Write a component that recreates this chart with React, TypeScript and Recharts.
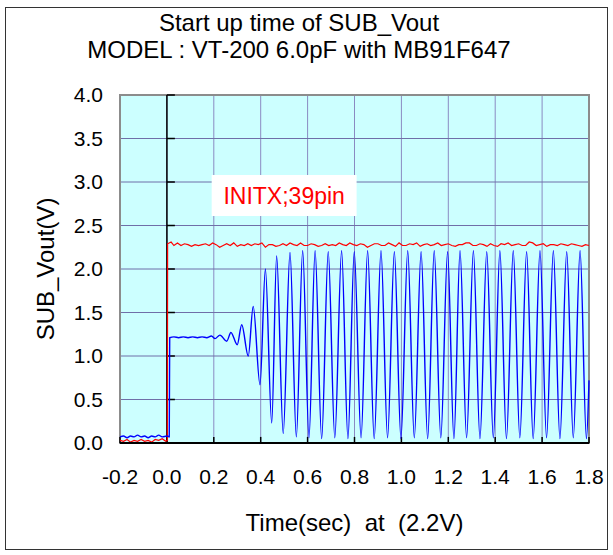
import React from "react";
import {
  LineChart,
  Line,
  XAxis,
  YAxis,
  CartesianGrid,
  ReferenceArea,
  ReferenceLine,
  Label,
} from "recharts";

// axis ticks
const xTicks = [-0.2, 0, 0.2, 0.4, 0.6, 0.8, 1.0, 1.2, 1.4, 1.6, 1.8];
const yTicks = [0, 0.5, 1, 1.5, 2, 2.5, 3, 3.5, 4];

// INITX (red) : [time, volt]
const initxLow: [number, number][] = [
  [-0.2, 0.03], [-0.185, 0.02], [-0.17, 0.04], [-0.155, 0.01], [-0.14, 0.03],
  [-0.125, 0.02], [-0.11, 0.04], [-0.095, 0.02], [-0.08, 0.03], [-0.065, 0.01],
  [-0.05, 0.04], [-0.035, 0.03], [-0.02, 0.05], [-0.005, 0.02], [0.002, 0.03],
];
const initxHigh: [number, number][] = [
  [0.003, 2.29], [0.018, 2.31], [0.03, 2.27], [0.045, 2.3], [0.06, 2.27],
  [0.075, 2.29], [0.09, 2.28], [0.105, 2.26], [0.12, 2.28], [0.135, 2.27],
  [0.15, 2.28], [0.165, 2.29], [0.18, 2.27], [0.195, 2.3], [0.21, 2.28],
  [0.225, 2.25], [0.24, 2.27], [0.255, 2.29], [0.27, 2.27], [0.285, 2.3],
  [0.3, 2.26], [0.315, 2.28], [0.33, 2.27], [0.345, 2.29], [0.36, 2.27],
  [0.375, 2.29], [0.39, 2.28], [0.405, 2.3], [0.42, 2.25], [0.435, 2.28],
  [0.45, 2.28], [0.465, 2.26], [0.48, 2.27], [0.495, 2.29], [0.51, 2.27],
  [0.525, 2.3], [0.54, 2.28], [0.555, 2.27], [0.57, 2.3], [0.585, 2.27],
  [0.6, 2.27], [0.615, 2.29], [0.63, 2.28], [0.645, 2.26], [0.66, 2.27],
  [0.675, 2.29], [0.69, 2.27], [0.705, 2.28], [0.72, 2.27], [0.735, 2.3],
  [0.75, 2.28], [0.765, 2.27], [0.78, 2.3], [0.795, 2.28], [0.81, 2.27],
  [0.825, 2.29], [0.84, 2.28], [0.855, 2.25], [0.87, 2.27], [0.885, 2.29],
  [0.9, 2.29], [0.915, 2.27], [0.93, 2.27], [0.945, 2.3], [0.96, 2.28],
  [0.975, 2.26], [0.99, 2.3], [1.005, 2.27], [1.02, 2.27], [1.035, 2.29],
  [1.05, 2.28], [1.065, 2.3], [1.08, 2.26], [1.095, 2.28], [1.11, 2.29],
  [1.125, 2.27], [1.14, 2.28], [1.155, 2.3], [1.17, 2.27], [1.185, 2.28],
  [1.2, 2.29], [1.215, 2.27], [1.23, 2.26], [1.245, 2.28], [1.26, 2.28],
  [1.275, 2.3], [1.29, 2.3], [1.305, 2.27], [1.32, 2.27], [1.335, 2.29],
  [1.35, 2.28], [1.365, 2.26], [1.38, 2.29], [1.395, 2.27], [1.41, 2.26],
  [1.425, 2.29], [1.44, 2.28], [1.455, 2.3], [1.47, 2.27], [1.485, 2.28],
  [1.5, 2.29], [1.515, 2.27], [1.53, 2.27], [1.545, 2.31], [1.56, 2.3],
  [1.575, 2.27], [1.59, 2.28], [1.605, 2.29], [1.62, 2.26], [1.635, 2.28],
  [1.65, 2.28], [1.665, 2.27], [1.68, 2.29], [1.695, 2.28], [1.71, 2.27],
  [1.725, 2.29], [1.74, 2.28], [1.755, 2.27], [1.77, 2.26], [1.785, 2.28],
  [1.8, 2.27],
];

// SUB_Vout (blue)
const voutLow: [number, number][] = [
  [-0.2, 0.07], [-0.185, 0.08], [-0.17, 0.06], [-0.155, 0.08], [-0.14, 0.07],
  [-0.125, 0.09], [-0.11, 0.07], [-0.095, 0.08], [-0.08, 0.06], [-0.065, 0.08],
  [-0.05, 0.07], [-0.035, 0.09], [-0.02, 0.07], [0.0, 0.08], [0.01, 0.07],
];
const voutSettle: [number, number][] = [
  [0.012, 1.21], [0.03, 1.22], [0.05, 1.21], [0.07, 1.22], [0.09, 1.21],
  [0.11, 1.22], [0.13, 1.21], [0.15, 1.22], [0.17, 1.21], [0.19, 1.23],
  [0.205, 1.2], [0.226, 1.24], [0.255, 1.17], [0.273, 1.27], [0.3, 1.13],
  [0.319, 1.36], [0.347, 1.0],
];
const voutPeaks: [number, number][] = [
  [0.368, 1.57], [0.42, 2.0], [0.468, 2.15], [0.525, 2.19], [0.579, 2.21],
  [0.632, 2.21], [0.688, 2.2], [0.745, 2.21], [0.799, 2.2], [0.856, 2.21],
  [0.913, 2.21], [0.97, 2.2], [1.027, 2.21], [1.084, 2.2], [1.14, 2.21],
  [1.197, 2.2], [1.25, 2.21], [1.307, 2.21], [1.364, 2.2], [1.42, 2.21],
  [1.477, 2.21], [1.534, 2.2], [1.591, 2.21], [1.648, 2.21], [1.705, 2.2],
  [1.762, 2.21],
];
const voutTroughs: [number, number][] = [
  [0.397, 0.67], [0.447, 0.23], [0.496, 0.11], [0.552, 0.07], [0.606, 0.06],
  [0.66, 0.05], [0.716, 0.06], [0.772, 0.05], [0.828, 0.06], [0.884, 0.05],
  [0.941, 0.06], [0.998, 0.05], [1.055, 0.06], [1.112, 0.05], [1.168, 0.06],
  [1.224, 0.05], [1.278, 0.06], [1.335, 0.05], [1.392, 0.06], [1.448, 0.05],
  [1.505, 0.06], [1.562, 0.05], [1.619, 0.06], [1.676, 0.05], [1.733, 0.06],
  [1.789, 0.05], [1.8, 0.72],
];

const toRows = (pts: [number, number][]) => pts.map(([t, v]) => ({ t, v }));

const redData = toRows([...initxLow, ...initxHigh]);
const blueData = toRows(
  [...voutLow, ...voutSettle, ...voutPeaks, ...voutTroughs].sort((a, b) => a[0] - b[0])
);

const FONT = "'Liberation Sans', Arial, sans-serif";

export default function App() {
  return (
    <div
      style={{
        position: "absolute",
        left: 0,
        top: 0,
        width: 613,
        height: 555,
        background: "#fff",
        fontFamily: FONT,
      }}
    >
      <div
        style={{
          position: "absolute",
          left: 5,
          top: 7,
          width: 601,
          height: 541,
          border: "1px solid #333",
        }}
      />
      <div
        style={{
          position: "absolute",
          left: 0,
          width: 598,
          top: 9,
          textAlign: "center",
          fontSize: 24,
          lineHeight: "27px",
          color: "#000",
        }}
      >
        <div>Start up time of SUB_Vout</div>
        <div>MODEL : VT-200 6.0pF with MB91F647</div>
      </div>
      <div style={{ position: "absolute", left: 0, top: 0 }}>
        <LineChart
          width={613}
          height={555}
          data={blueData}
          margin={{ top: 95, right: 24, bottom: 0, left: 0 }}
          style={{ fontFamily: FONT }}
        >
          <CartesianGrid
            horizontal={false}
            vertical
            stroke="#8a8ac2"
            strokeWidth={1}
            fill="#ccffff"
            fillOpacity={1}
          />
          <CartesianGrid horizontal vertical={false} stroke="#6f6fa8" strokeWidth={1} />
          <XAxis
            dataKey="t"
            type="number"
            domain={[-0.2, 1.8]}
            ticks={xTicks}
            tickFormatter={(v: number) => v.toFixed(1)}
            height={112}
            tickLine={false}
            axisLine={{ stroke: "#000", strokeWidth: 2 }}
            tick={{ fill: "#000", fontSize: 21 }}
            tickMargin={20}
            interval={0}
          >
            <Label
              value={"Time(sec)\u00a0 at\u00a0 (2.2V)"}
              position="insideBottom"
              offset={24}
              fill="#000"
              fontSize={24}
            />
          </XAxis>
          <YAxis
            type="number"
            domain={[0, 4]}
            ticks={yTicks}
            tickFormatter={(v: number) => v.toFixed(1)}
            width={120}
            tickLine={false}
            axisLine={false}
            tick={{ fill: "#000", fontSize: 21 }}
            tickMargin={11}
            interval={0}
          >
            <Label
              content={(props: any) => {
                const vb = props.viewBox || {};
                const cx = (vb.x || 0) + 45;
                const cy = (vb.y || 0) + (vb.height || 0) / 2;
                return (
                  <text
                    x={cx}
                    y={cy}
                    transform={`rotate(-90 ${cx} ${cy})`}
                    textAnchor="middle"
                    dominantBaseline="central"
                    fontSize={24}
                    fill="#000"
                  >
                    SUB_Vout(V)
                  </text>
                );
              }}
            />
          </YAxis>
          <ReferenceArea
            x1={-0.2}
            x2={1.8}
            y1={0}
            y2={4}
            fill="none"
            stroke="#8c8c8c"
            strokeWidth={2}
          />
          <ReferenceLine x={0} stroke="#000" strokeWidth={1.5} />
          {yTicks.map((v) => (
            <ReferenceLine
              key={"yt" + v}
              segment={[
                { x: 0, y: v },
                { x: 0.034, y: v },
              ]}
              stroke="#000"
              strokeWidth={1.5}
            />
          ))}
          {xTicks.map((v) => (
            <ReferenceLine
              key={"xt" + v}
              segment={[
                { x: v, y: 0 },
                { x: v, y: 0.07 },
              ]}
              stroke="#000"
              strokeWidth={1.5}
            />
          ))}
          <ReferenceArea x1={0.191} x2={0.809} y1={2.61} y2={3.08} fill="#fff" fillOpacity={1}>
            <Label value="INITX;39pin" position="center" fill="#ff0000" fontSize={23} />
          </ReferenceArea>
          <Line
            data={redData}
            dataKey="v"
            type="linear"
            stroke="#ff0000"
            strokeWidth={1.2}
            dot={false}
            isAnimationActive={false}
          />
          <Line
            data={blueData}
            dataKey="v"
            type="monotone"
            stroke="#0000ff"
            strokeWidth={1.4}
            dot={false}
            isAnimationActive={false}
          />
        </LineChart>
      </div>
    </div>
  );
}
